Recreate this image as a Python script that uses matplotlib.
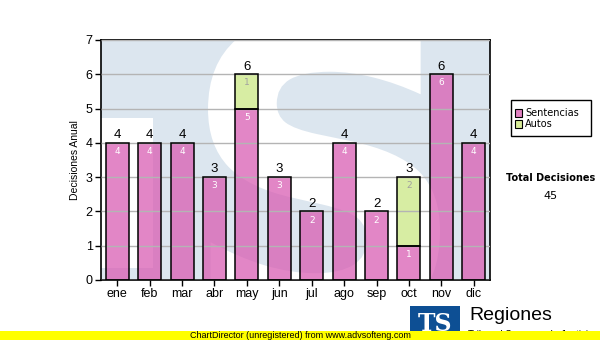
import matplotlib
matplotlib.use("Agg")
import matplotlib.pyplot as plt
from matplotlib.patches import Rectangle, PathPatch
from matplotlib.textpath import TextPath
from matplotlib.font_manager import FontProperties
from matplotlib.transforms import Affine2D
import numpy as np

months = ["ene", "feb", "mar", "abr", "may", "jun", "jul", "ago", "sep", "oct", "nov", "dic"]
sentencias = [4, 4, 4, 3, 5, 3, 2, 4, 2, 1, 6, 4]
autos = [0, 0, 0, 0, 1, 0, 0, 0, 0, 2, 0, 0]
series_names = ["Sentencias", "Autos"]
total_label = "Total Decisiones"
y_ticks = [0, 1, 2, 3, 4, 5, 6, 7]

W, H = 600, 340
fig = plt.figure(figsize=(6, 3.4), dpi=100)
fig.patch.set_facecolor("white")

def fx(px):
    return px / W

def fy(py):
    return 1 - py / H

ax = fig.add_axes([fx(101), fy(280), (490 - 101) / W, (280 - 40) / H])
ax.set_facecolor("#dce6ef")

# faded logo watermark behind the bars
ax.add_patch(Rectangle((0.0, (280 - 268) / 240), (153 - 101) / 389, (268 - 118) / 240,
                       transform=ax.transAxes, facecolor="white", edgecolor="none", zorder=0))
sp = TextPath((0, 0), "S", size=100, prop=FontProperties(family="DejaVu Sans", weight="bold"))
ext = sp.get_extents()
x0, x1 = (208 - 101) / 389, (440 - 101) / 389
y0, y1 = (280 - 330) / 240, (280 - 15) / 240
tr = (Affine2D().translate(-ext.x0, -ext.y0)
      .scale((x1 - x0) / ext.width, (y1 - y0) / ext.height)
      .translate(x0, y0) + ax.transAxes)
ax.add_patch(PathPatch(sp, transform=tr, facecolor="white", edgecolor="none", zorder=0))

x = np.arange(len(months))
ax.yaxis.grid(True, color="#b4b4b4", linewidth=1, zorder=3)
ax.set_axisbelow(False)

pink = "#d858b0"
green = "#cce88a"
bw = 0.71
ax.bar(x, sentencias, width=bw, color=pink, alpha=0.72, edgecolor="none", zorder=2)
ax.bar(x, autos, width=bw, bottom=sentencias, color=green, alpha=0.78, edgecolor="none", zorder=2)
for i in range(len(months)):
    s, a = sentencias[i], autos[i]
    ax.add_patch(Rectangle((x[i] - bw / 2, 0), bw, s, fill=False, edgecolor="black", lw=1.1, zorder=4))
    ax.text(x[i], s - 0.12, str(s), ha="center", va="top", color="white",
            fontsize=6.5, family="DejaVu Sans", zorder=5)
    if a > 0:
        ax.add_patch(Rectangle((x[i] - bw / 2, s), bw, a, fill=False, edgecolor="black", lw=1.1, zorder=4))
        ax.text(x[i], s + a - 0.12, str(a), ha="center", va="top", color="#a0a0a0",
                fontsize=6.5, family="DejaVu Sans", zorder=5)
    ax.text(x[i], s + a + 0.05, str(s + a), ha="center", va="bottom", color="black",
            fontsize=9.5, family="Liberation Sans", zorder=5)

ax.set_xlim(-0.5, len(months) - 0.5)
ax.set_ylim(0, 7)
ax.set_yticks(y_ticks)
ax.set_xticks(x)
ax.set_xticklabels(months)
ax.tick_params(axis="both", direction="out", length=4, width=1, color="black",
               labelsize=9, pad=2)
for lbl in ax.get_xticklabels() + ax.get_yticklabels():
    lbl.set_family("Liberation Sans")
for sname, sp_ in ax.spines.items():
    sp_.set_color("black")
    sp_.set_linewidth(1.2)
ax.set_ylabel("Decisiones Anual", fontsize=7.5, family="Liberation Sans", labelpad=4)

# legend box
fig.patches.append(Rectangle((fx(511), fy(136)), (591 - 511) / W, (136 - 100) / H,
                             transform=fig.transFigure, facecolor="white", edgecolor="black", lw=1))
for j, (name, col) in enumerate(zip(series_names, ["#e080c0", "#d8ec98"])):
    yy = 113 + j * 11
    fig.patches.append(Rectangle((fx(515), fy(yy + 3.5)), 7 / W, 7 / H, transform=fig.transFigure,
                                 facecolor=col, edgecolor="black", lw=0.8))
    fig.text(fx(525), fy(yy), name, fontsize=7, family="DejaVu Sans", va="center", ha="left")

fig.text(fx(551), fy(178), total_label, fontsize=7, weight="bold", family="DejaVu Sans",
         ha="center", va="center")
fig.text(fx(550), fy(196), str(sum(sentencias) + sum(autos)), fontsize=8, family="DejaVu Sans",
         ha="center", va="center")

# organisation logo
fig.patches.append(Rectangle((fx(410), fy(340)), 50 / W, 34 / H, transform=fig.transFigure,
                             facecolor="#0d4f94", edgecolor="none"))
fig.text(fx(435), fy(324), "TS", fontsize=17, weight="bold", family="DejaVu Serif",
         color="white", ha="center", va="center")
fig.text(fx(469), fy(316), "Regiones", fontsize=14, family="Liberation Sans", ha="left", va="center")
fig.text(fx(468), fy(335), "Tribunal Supremo de Justicia", fontsize=7, family="Liberation Sans",
         ha="left", va="center")

# footer strip
fig.patches.append(Rectangle((0, 0), 1, 9.5 / H, transform=fig.transFigure,
                             facecolor="#ffff00", edgecolor="none", zorder=10))
fig.text(0.5, fy(335.5), "ChartDirector (unregistered) from www.advsofteng.com", fontsize=6.5,
         family="Liberation Sans", ha="center", va="center", zorder=11)

fig.savefig("out.png", dpi=100)
